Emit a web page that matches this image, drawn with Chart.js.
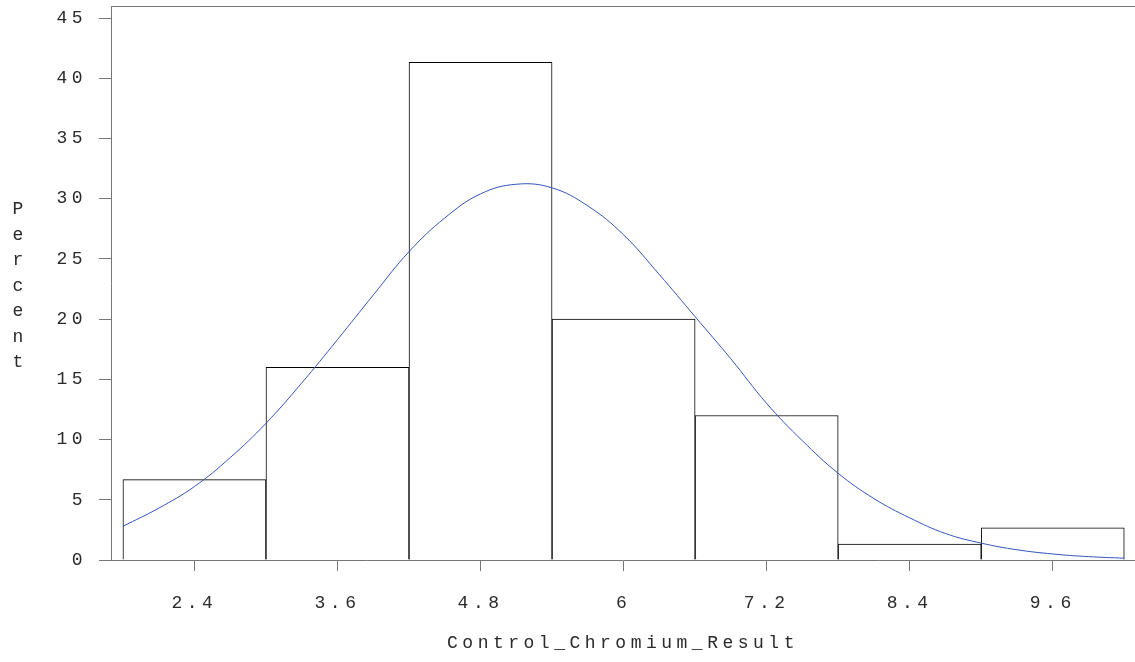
<!DOCTYPE html>
<html>
<head>
<meta charset="utf-8">
<title>Control_Chromium_Result</title>
<script src="https://cdn.jsdelivr.net/npm/chart.js@4.4.1/dist/chart.umd.min.js"></script>
<style>
  html, body { margin: 0; padding: 0; background: #fff; }
  canvas { display: block; }
</style>
</head>
<body>
<canvas id="histChart" width="1135" height="662"></canvas>
<script>
// Histogram bins (midpoints) and percent of observations
const binMids = [2.4, 3.6, 4.8, 6.0, 7.2, 8.4, 9.6];
const binPercent = [6.67, 16.0, 41.33, 20.0, 12.0, 1.33, 2.67];

// Normal curve
const curveX = [1.8, 2.1, 2.4, 2.7, 3.0, 3.3, 3.6, 3.9, 4.2, 4.5, 4.8, 5.1, 5.4, 5.7, 6.0,
  6.3, 6.6, 6.9, 7.2, 7.5, 7.8, 8.1, 8.4, 8.7, 9.0, 9.3, 9.6, 9.9, 10.2];
const curveY = [2.8, 4.3, 6.1, 8.5, 11.35, 14.7, 18.3, 22.0, 25.6, 28.4, 30.4, 31.2, 30.9, 29.4, 27.0,
  23.7, 20.2, 16.7, 13.0, 9.9, 7.2, 5.1, 3.5, 2.2, 1.4, 0.85, 0.5, 0.28, 0.15];

// Axes
const xTickValues = [2.4, 3.6, 4.8, 6.0, 7.2, 8.4, 9.6];
const xTickLabels = ['2.4', '3.6', '4.8', '6', '7.2', '8.4', '9.6'];
const xTitle = 'Control_Chromium_Result';
const yTitle = 'Percent';

const FONT = { family: '"Liberation Mono", "Courier New", monospace', size: 18 };
const TEXT_COLOR = '#2a2a2a';
const AXIS_COLOR = '#777777';

// top frame line + stacked y title + letter spacing of the mono labels
const frameAndTitle = {
  id: 'frameAndTitle',
  beforeDraw(chart) {
    chart.ctx.letterSpacing = '4.5px';
  },
  afterDraw(chart) {
    const { ctx, chartArea } = chart;
    ctx.save();
    ctx.strokeStyle = AXIS_COLOR;
    ctx.lineWidth = 1;
    ctx.beginPath();
    ctx.moveTo(chartArea.left, chartArea.top + 0.5);
    ctx.lineTo(chartArea.right, chartArea.top + 0.5);
    ctx.stroke();

    ctx.letterSpacing = '0px';
    ctx.font = `${FONT.size}px ${FONT.family}`;
    ctx.fillStyle = TEXT_COLOR;
    ctx.textAlign = 'center';
    ctx.textBaseline = 'middle';
    const chars = yTitle.split('');
    const mid = (chartArea.top + chartArea.bottom) / 2 + 3;
    chars.forEach((c, i) => {
      ctx.fillText(c, 18, mid + (i - (chars.length - 1) / 2) * 25.5);
    });
    ctx.restore();
  },
};

const data = {
  datasets: [
    {
      type: 'line',
      label: 'Normal',
      data: curveX.map((x, i) => ({ x, y: curveY[i] })),
      borderColor: '#3355bb',
      borderWidth: 1,
      pointRadius: 0,
      tension: 0.4,
      fill: false,
      order: 0,
    },
    {
      type: 'bar',
      label: 'Percent',
      data: binMids.map((x, i) => ({ x, y: binPercent[i] })),
      backgroundColor: '#ffffff',
      borderColor: '#000000',
      borderWidth: 1,
      borderSkipped: 'start',
      barPercentage: 1,
      categoryPercentage: 1,
      order: 1,
    },
  ],
};

const options = {
  responsive: false,
  animation: false,
  layout: { padding: { top: 6, right: 0, bottom: 0, left: 0 } },
  plugins: {
    legend: { display: false },
    tooltip: { enabled: false },
  },
  scales: {
    x: {
      type: 'linear',
      min: 1.7,
      max: 10.29,
      offset: false,
      afterFit: (s) => {
        s.height = 102;
        s.paddingLeft = 0;
        s.paddingRight = 0;
      },
      afterBuildTicks: (s) => { s.ticks = xTickValues.map((v) => ({ value: v })); },
      ticks: {
        callback: (v, i) => xTickLabels[i],
        font: FONT,
        color: TEXT_COLOR,
        padding: 21,
        maxRotation: 0,
        autoSkip: false,
      },
      grid: { drawOnChartArea: false, offset: false, tickLength: 11, color: AXIS_COLOR },
      border: { color: AXIS_COLOR, width: 1 },
      title: {
        display: true,
        text: xTitle,
        font: FONT,
        color: TEXT_COLOR,
        padding: { top: 0, bottom: 8 },
      },
    },
    y: {
      min: 0,
      max: 46,
      afterFit: (s) => {
        s.width = 111;
        s.paddingTop = 0;
        s.paddingBottom = 0;
      },
      ticks: {
        stepSize: 5,
        includeBounds: false,
        font: FONT,
        color: TEXT_COLOR,
        padding: 12,
      },
      grid: { drawOnChartArea: false, tickLength: 12, color: AXIS_COLOR },
      border: { color: AXIS_COLOR, width: 1 },
    },
  },
};

document.addEventListener('DOMContentLoaded', () => {
  new Chart(document.getElementById('histChart'), {
    type: 'bar',
    data,
    options,
    plugins: [frameAndTitle],
  });
});
</script>
</body>
</html>
